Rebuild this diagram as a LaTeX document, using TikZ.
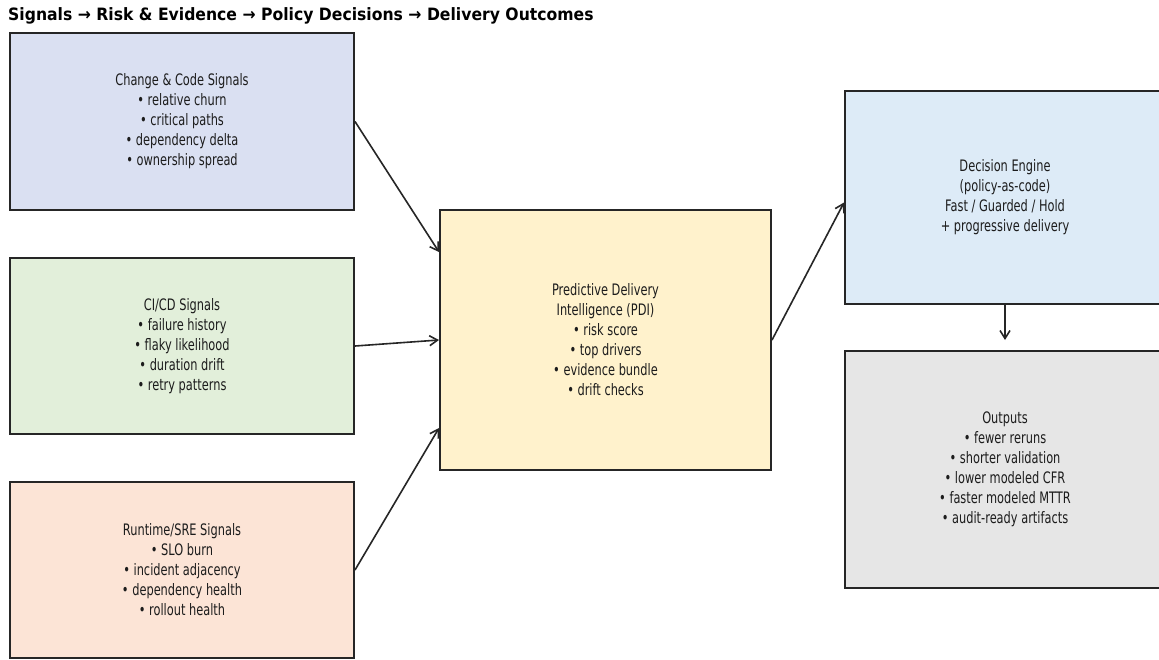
\documentclass[tikz,border=0pt]{standalone}
\usepackage{fontspec}
\setmainfont{DejaVu Sans}[FakeStretch=0.72]
\newfontfamily\headfamily{DejaVu Sans}[FakeStretch=0.92]
\usepackage{tikz}
\usetikzlibrary{arrows.meta}
\usetikzlibrary{positioning}

\definecolor{codeblue}{HTML}{DAE0F2}
\definecolor{cicdgreen}{HTML}{E2EFDA}
\definecolor{srepeach}{HTML}{FCE4D6}
\definecolor{pdiyellow}{HTML}{FFF2CC}
\definecolor{engineblue}{HTML}{DDEBF7}
\definecolor{outgray}{HTML}{E6E6E6}
\definecolor{edgegray}{HTML}{262626}
\definecolor{inkgray}{HTML}{1C1C1C}

\newcommand{\boxfont}{\fontsize{15.8}{20}\selectfont}
\newcommand{\headfont}{\headfamily\fontsize{17}{20}\selectfont\bfseries}

\tikzset{
	sigbox/.style={draw=edgegray,line width=2pt,minimum width=344pt,align=center,text=inkgray,font=\boxfont},
	flow/.style={-{Straight Barb[length=8pt,width=10pt]},line width=1.6pt,draw=edgegray},
}

\begin{document}
\begin{tikzpicture}[x=1pt,y=-1pt]
	\useasboundingbox (0,0) rectangle (1159,659);
	\clip (0,0) rectangle (1159,659);
	\fill[white] (0,0) rectangle (1159,659);

	\node[anchor=base west,inner sep=0,text=black,font=\headfont] (title) at (8,20) {Signals → Risk \& Evidence → Policy Decisions → Delivery Outcomes};

	% signal sources on the left
	\node[sigbox,fill=codeblue,minimum height=177pt] (N1) at (182,121.5) {Change \& Code Signals\\• relative churn\\• critical paths\\• dependency delta\\• ownership spread};
	\node[sigbox,fill=cicdgreen,minimum height=176pt,below=46pt of N1] (N2) {CI/CD Signals\\• failure history\\• flaky likelihood\\• duration drift\\• retry patterns};
	\node[sigbox,fill=srepeach,minimum height=176pt,below=46pt of N2] (N3) {Runtime/SRE Signals\\• SLO burn\\• incident adjacency\\• dependency health\\• rollout health};

	% risk and evidence
	\node[sigbox,fill=pdiyellow,minimum width=331pt,minimum height=260pt] (PDI) at (605.5,340) {Predictive Delivery\\Intelligence (PDI)\\• risk score\\• top drivers\\• evidence bundle\\• drift checks};

	% decisions and outcomes
	\node[sigbox,fill=engineblue,minimum width=320pt,minimum height=213pt] (DE) at (1005,197.5) {Decision Engine\\(policy-as-code)\\Fast / Guarded / Hold\\+ progressive delivery};
	\node[sigbox,fill=outgray,minimum width=320pt,minimum height=237pt,below=45pt of DE] (OUT) {Outputs\\• fewer reruns\\• shorter validation\\• lower modeled CFR\\• faster modeled MTTR\\• audit-ready artifacts};

	\draw[flow] (N1.east) -- ([yshift=88pt]PDI.west);
	\draw[flow] (N2.east) -- (PDI.west);
	\draw[flow] (N3.east) -- ([yshift=-88pt]PDI.west);
	\draw[flow] (PDI.east) -- ([yshift=-5pt]DE.west);
	\draw[flow,shorten >=10pt] (DE.south) -- (OUT.north);
\end{tikzpicture}
\end{document}
